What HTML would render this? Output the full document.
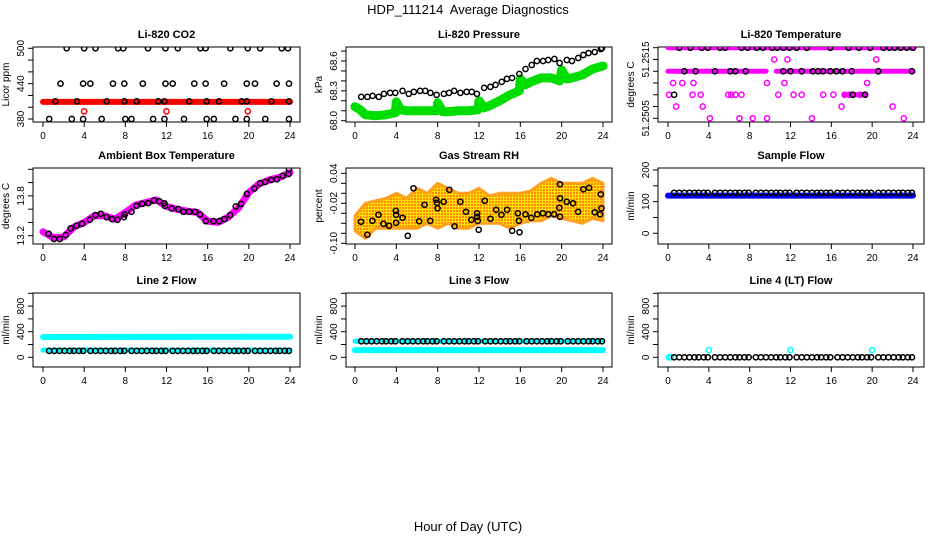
<!DOCTYPE html>
<html><head><meta charset="utf-8"><style>
html,body{margin:0;padding:0;background:#fff;}
svg{display:block;font-family:"Liberation Sans",sans-serif;}
</style></head><body>
<svg id="chart" width="936" height="540" viewBox="0 0 936 540">
<defs>
<pattern id="orangeDots" width="3" height="3" patternUnits="userSpaceOnUse">
<rect width="3" height="3" fill="#ffe000"/><rect x="0" y="0" width="2" height="2" fill="#ff8c00"/>
</pattern>
</defs>
<text x="468" y="14" text-anchor="middle" font-size="13">HDP_111214&#160; Average Diagnostics</text>
<text x="468" y="531" text-anchor="middle" font-size="13">Hour of Day (UTC)</text>
</svg>
<script>
// ---------- data ----------
const co2Hours = [2.3,4.0,5.1,7.3,7.8,10.2,11.9,13.1,15.3,15.8,18.2,19.9,21.1,23.2,23.8, 1.7,3.9,4.6,6.8,7.9,9.7,11.9,12.6,14.7,15.8,17.6,19.8,20.6,22.7,23.9, 0.6,2.8,3.9,5.7,8.0,8.6,10.7,11.8,13.7,15.9,16.6,18.7,19.8,21.6,23.9, 1.2,3.3,6.2,7.9,9.1,11.2,11.8,14.2,15.9,17.1,19.3,19.8,22.2,23.9];
const co2Values = [500,500,500,500,500,500,500,500,500,500,500,500,500,500,500, 440,440,440,440,440,440,440,440,440,440,440,440,440,440,440, 380,380,380,380,380,380,380,380,380,380,380,380,380,380,380, 410,410,410,410,410,410,410,410,410,410,410,410,410,410];
const co2RedBandHours = [0.0,24.0];
const co2RedBandValues = [409,409];
const co2RedHours = [4.0,12.0,19.9];
const co2RedValues = [393,393,393];

const presHours = [0.6,1.2,1.7,2.3,2.8,3.4,3.9,4.6,5.2,5.7,6.3,6.8,7.3,7.9,8.6,9.1,9.6,10.2,10.8,11.3,11.8,12.5,13.1,13.6,14.2,14.7,15.2,15.9,16.5,17.1,17.6,18.2,18.7,19.3,19.8,20.5,21.0,21.6,22.1,22.6,23.2,23.8,23.9];
const presValues = [68.24,68.24,68.25,68.24,68.27,68.28,68.28,68.30,68.27,68.29,68.30,68.30,68.28,68.26,68.27,68.28,68.30,68.28,68.29,68.29,68.27,68.33,68.34,68.36,68.39,68.42,68.43,68.47,68.52,68.56,68.60,68.60,68.61,68.62,68.58,68.61,68.60,68.63,68.66,68.68,68.69,68.72,68.73];
const presGreenHours = [0.0,0.5,1.0,2.0,3.0,3.9,4.0,4.4,5.0,6.0,7.0,7.9,8.0,8.5,9.0,10.0,11.0,11.9,12.0,12.5,13.0,14.0,15.0,15.9,16.0,16.5,17.0,18.0,19.0,19.8,20.0,20.5,21.0,22.0,23.0,24.0];
const presGreenValues = [68.14,68.11,68.06,68.05,68.06,68.08,68.19,68.11,68.10,68.10,68.10,68.10,68.18,68.09,68.09,68.10,68.10,68.11,68.20,68.13,68.15,68.20,68.26,68.30,68.42,68.36,68.39,68.43,68.43,68.40,68.51,68.42,68.43,68.46,68.52,68.55];

const tempBlackHours = [1.1,2.2,3.3,3.9,5.1,5.6,7.2,7.8,8.7,9.3,10.2,10.7,11.3,11.9,12.6,13.6,15.9,17.7,18.7,19.8,21.1,21.7,22.2,22.8,23.4,24.0, 1.6,2.7,4.6,6.1,6.6,7.6,11.3,12.0,13.1,14.2,14.7,15.2,15.9,16.5,17.1,18.0,20.6,23.9, 0.6,18.1,19.3];
const tempBlackValues = [51.2517,51.2517,51.2517,51.2517,51.2517,51.2517,51.2517,51.2517,51.2517,51.2517,51.2517,51.2517,51.2517,51.2517,51.2517,51.2517,51.2517,51.2517,51.2517,51.2517,51.2517,51.2517,51.2517,51.2517,51.2517,51.2517, 51.2513,51.2513,51.2513,51.2513,51.2513,51.2513,51.2513,51.2513,51.2513,51.2513,51.2513,51.2513,51.2513,51.2513,51.2513,51.2513,51.2513,51.2513, 51.2509,51.2509,51.2509];
const tempMagHours = [10.4,11.7,20.4, 0.5,1.4,2.5,9.7,11.4,19.5, 0.1,2.4,3.2,5.9,6.2,6.6,7.2,10.8,12.3,13.1,15.2,16.2,17.3,17.8,18.1,18.8,19.3, 0.8,3.4,17.0,22.0, 4.1,7.0,8.3,9.7,14.1,23.1];
const tempMagValues = [51.2515,51.2515,51.2515, 51.2511,51.2511,51.2511,51.2511,51.2511,51.2511, 51.2509,51.2509,51.2509,51.2509,51.2509,51.2509,51.2509,51.2509,51.2509,51.2509,51.2509,51.2509,51.2509,51.2509,51.2509,51.2509,51.2509, 51.2507,51.2507,51.2507,51.2507, 51.2505,51.2505,51.2505,51.2505,51.2505,51.2505];
const tempBandStart = [0.0,0.0,10.6,17.3];
const tempBandEnd = [24.0,9.6,24.0,19.3];
const tempBandValue = [51.2517,51.2513,51.2513,51.2509];

const ambHours = [0.55,1.07,1.62,2.21,2.69,3.25,3.80,4.55,5.10,5.62,6.17,6.72,7.24,7.86,7.95,8.60,9.09,9.64,10.23,10.78,11.30,11.79,11.85,12.50,13.15,13.64,14.19,14.77,15.26,15.81,16.56,17.11,17.63,18.18,18.73,19.25,19.81,20.55,21.10,21.59,22.18,22.73,23.28,23.86,23.90];
const ambValues = [13.23,13.15,13.15,13.21,13.31,13.35,13.38,13.44,13.51,13.53,13.48,13.45,13.44,13.48,13.52,13.56,13.65,13.68,13.69,13.73,13.72,13.69,13.65,13.61,13.60,13.56,13.56,13.56,13.52,13.42,13.42,13.42,13.45,13.51,13.64,13.68,13.83,13.91,13.99,14.01,14.04,14.05,14.10,14.13,14.20];
const ambMagHours = [0,1,2,3,4,5,6,7,8,9,10,11,12,13,14,15,16,17,18,19,20,21,22,23,24];
const ambMagValues = [13.26,13.17,13.18,13.33,13.40,13.50,13.50,13.45,13.55,13.66,13.70,13.74,13.64,13.60,13.57,13.55,13.42,13.40,13.48,13.62,13.85,13.98,14.04,14.08,14.15];

const rhHours = [0.58,1.20,1.68,2.27,2.75,3.30,3.95,3.98,3.98,4.60,5.11,5.66,6.21,6.73,7.28,7.86,7.93,7.99,8.58,9.13,9.64,10.19,10.74,11.26,11.81,11.81,11.88,11.97,12.56,13.11,13.66,14.17,14.72,15.21,15.76,15.86,15.92,16.50,17.06,17.64,18.19,18.71,19.26,19.77,19.84,19.84,19.84,20.49,21.10,21.59,22.10,22.65,23.20,23.72,23.79,23.85];
const rhValues = [-0.057,-0.083,-0.055,-0.043,-0.061,-0.065,-0.035,-0.043,-0.059,-0.049,-0.085,0.010,-0.056,-0.023,-0.055,-0.013,-0.019,-0.030,-0.017,0.007,-0.066,-0.017,-0.037,-0.053,-0.040,-0.047,-0.055,-0.073,-0.015,-0.051,-0.033,-0.043,-0.033,-0.075,-0.040,-0.055,-0.078,-0.042,-0.049,-0.042,-0.040,-0.042,-0.042,-0.029,-0.047,0.018,-0.010,-0.017,-0.020,-0.037,0.008,0.011,-0.038,-0.042,-0.002,-0.030];
const rhCloudHours = [0,1,2,3,4,5,6,7,8,9,10,11,12,13,14,15,16,17,18,19,20,21,22,23,24];
const rhCloudUpper = [-0.045,-0.020,-0.015,-0.010,0.000,-0.010,0.010,0.000,0.020,0.010,0.000,0.000,0.010,-0.005,0.000,0.000,0.000,0.005,0.020,0.030,0.020,0.020,0.020,0.030,0.020];
const rhCloudLower = [-0.075,-0.090,-0.070,-0.070,-0.070,-0.070,-0.070,-0.060,-0.070,-0.060,-0.070,-0.070,-0.060,-0.060,-0.060,-0.070,-0.060,-0.055,-0.055,-0.045,-0.050,-0.055,-0.060,-0.050,-0.055];

const flowHours = [0.6,1.1,1.6,2.1,2.6,3.0,3.5,3.9,4.6,5.1,5.6,6.1,6.6,7.0,7.5,7.9,8.6,9.1,9.6,10.1,10.6,11.0,11.5,11.9,12.6,13.1,13.6,14.1,14.6,15.0,15.5,15.9,16.6,17.1,17.6,18.1,18.6,19.0,19.5,19.9,20.6,21.1,21.6,22.1,22.6,23.0,23.5,23.9];
const sampleBlackValues = [128,128,128,128,128,128,128,128,128,128,128,128,128,128,128,128,128,128,128,128,128,128,128,128,128,128,128,128,128,128,128,128,128,128,128,128,128,128,128,128,128,128,128,128,128,128,128,128];
const sampleBandHours = [0.0,24.0];
const sampleBandValues = [119,119];
const line2BlackValues = [100,100,100,100,100,100,100,100,100,100,100,100,100,100,100,100,100,100,100,100,100,100,100,100,100,100,100,100,100,100,100,100,100,100,100,100,100,100,100,100,100,100,100,100,100,100,100,100];
const line2UpperHours = [0.0,24.0];
const line2UpperValues = [318,322];
const line2LowerHours = [0.0,24.0];
const line2LowerValues = [113,113];
const line3BlackValues = [251,251,251,251,251,251,251,251,251,251,251,251,251,251,251,251,251,251,251,251,251,251,251,251,251,251,251,251,251,251,251,251,251,251,251,251,251,251,251,251,251,251,251,251,251,251,251,251];
const line3UpperHours = [0.0,24.0];
const line3UpperValues = [251,251];
const line3LowerHours = [0.0,24.0];
const line3LowerValues = [113,113];
const line4BlackValues = [0,0,0,0,0,0,0,0,0,0,0,0,0,0,0,0,0,0,0,0,0,0,0,0,0,0,0,0,0,0,0,0,0,0,0,0,0,0,0,0,0,0,0,0,0,0,0,0];
const line4CyanHours = [0.1,0.3,4.0,12.0,20.0];
const line4CyanValues = [0,0,113,113,113];

const xTicks = [0,4,8,12,16,20,24];

// ---------- drawing ----------
const NS = 'http://www.w3.org/2000/svg';
const svg = document.getElementById('chart');
function mk(tag, attrs, parent){
  const e = document.createElementNS(NS, tag);
  for (const k in attrs) e.setAttribute(k, attrs[k]);
  parent.appendChild(e);
  return e;
}
function makePanel(key, title, box, xp0, xp24, yA, yB, yTicks, yLabels, ylab){
  const g = mk('g', {}, svg);
  
  
  const [l,t,r,b] = box;
  const sx = h => xp0 + h*(xp24-xp0)/24;
  const sy = v => yA[1] + (v-yA[0])*(yB[1]-yA[1])/(yB[0]-yA[0]);
  const frame = mk('rect', {x:l, y:t, width:r-l, height:b-t, fill:'none', stroke:'#000', 'stroke-width':1}, g);
  
  
  const tt = mk('text', {x:(l+r)/2, y:t-9, 'text-anchor':'middle', 'font-size':11, 'font-weight':'bold'}, g);
  tt.textContent = title;
  
  
  const xa = mk('g', {}, g);
  
  
  xTicks.forEach(h => {
    mk('line', {x1:sx(h), x2:sx(h), y1:b, y2:b+5, stroke:'#000'}, xa);
    const tx = mk('text', {x:sx(h), y:b+17, 'text-anchor':'middle', 'font-size':10}, xa);
    tx.textContent = h;
  });
  const ya = mk('g', {}, g);
  
  
  yTicks.forEach(v => mk('line', {x1:l-5, x2:l, y1:sy(v), y2:sy(v), stroke:'#000'}, ya));
  yLabels.forEach(s => {
    const v = parseFloat(s);
    const tx = mk('text', {x:0, y:0, 'text-anchor':'middle', 'font-size':10, transform:`translate(${l-9},${sy(v)}) rotate(-90)`}, ya);
    tx.textContent = s;
  });
  const yl = mk('text', {x:0, y:0, 'text-anchor':'middle', 'font-size':10, transform:`translate(${l-24},${(t+b)/2}) rotate(-90)`}, g);
  yl.textContent = ylab;
  
  
  const clipId = 'clip-' + key;
  const cp = mk('clipPath', {id:clipId}, svg);
  mk('rect', {x:l, y:t, width:r-l, height:b-t}, cp);
  const plot = mk('g', {'clip-path':`url(#${clipId})`}, g);
  return {g:plot, sx, sy};
}
function band(p, xs, ys, color, w, name){
  const pl = mk('polyline', {points: xs.map((h,i)=>p.sx(h)+','+p.sy(ys[i])).join(' '), fill:'none', stroke:color, 'stroke-width':w, 'stroke-linejoin':'round', 'stroke-linecap':'round'}, p.g);
  
  
}
function pts(p, xs, ys, color, name){
  const gg = mk('g', {}, p.g);
  
  
  xs.forEach((h,i) => {
    const c = mk('circle', {cx:p.sx(h), cy:p.sy(ys[i]), r:2.6, fill:'none', stroke:color, 'stroke-width':1.5}, gg);
    
    
  });
}

const C1=[33,300,43,290], C2=[346,612,355,603], C3=[658,924,668,913];
const R1=[47,122], R2=[168,244], R3=[293,367];
const flowTicks=[0,200,400,600,800,1000];

let p = makePanel('co2','Li-820 CO2',[C1[0],R1[0],C1[1],R1[1]],C1[2],C1[3],[500,48.3],[380,119],[380,400,420,440,460,480,500],['380','440','500'],'Licor ppm');
band(p, co2RedBandHours, co2RedBandValues, '#ff0000', 6, 'co2-red-series');
pts(p, co2RedHours, co2RedValues, '#ff0000', 'co2-red-outliers');
pts(p, co2Hours, co2Values, '#000', 'co2-black-series');

p = makePanel('pressure','Li-820 Pressure',[C2[0],R1[0],C2[1],R1[1]],C2[2],C2[3],[68.6,61],[68.0,120.7],[68.0,68.1,68.2,68.3,68.4,68.5,68.6,68.7],['68.0','68.3','68.6'],'kPa');
band(p, presGreenHours, presGreenValues, '#00dd00', 9, 'pressure-green-series');
pts(p, presHours, presValues, '#000', 'pressure-black-series');

p = makePanel('li820-temp','Li-820 Temperature',[C3[0],R1[0],C3[1],R1[1]],C3[2],C3[3],[51.2517,47.7],[51.2505,118.3],[51.2505,51.2507,51.2509,51.2511,51.2513,51.2515,51.2517],['51.2505','51.2515'],'degrees C');
tempBandStart.forEach((s,i)=> band(p,[s,tempBandEnd[i]],[tempBandValue[i],tempBandValue[i]],'#ff00ff',5,'temp-magenta-band'));
pts(p, tempMagHours, tempMagValues, '#ff00ff', 'temp-magenta-series');
pts(p, tempBlackHours, tempBlackValues, '#000', 'temp-black-series');

p = makePanel('ambient','Ambient Box Temperature',[C1[0],R2[0],C1[1],R2[1]],C1[2],C1[3],[13.2,235.7],[14.2,169.3],[13.2,13.4,13.6,13.8,14.0,14.2],['13.2','13.8'],'degrees C');
band(p, ambMagHours, ambMagValues, '#ff00ff', 7, 'ambient-magenta-series');
pts(p, ambHours, ambValues, '#000', 'ambient-black-series');

p = makePanel('rh','Gas Stream RH',[C2[0],R2[0],C2[1],R2[1]],C2[2],C2[3],[0.04,173.3],[-0.10,243.3],[-0.10,-0.08,-0.06,-0.04,-0.02,0.00,0.02,0.04],['0.04','-0.02','-0.10'],'percent');
{
  const up = rhCloudHours.map((h,i)=>p.sx(h)+','+p.sy(rhCloudUpper[i]));
  const lo = rhCloudHours.map((h,i)=>p.sx(h)+','+p.sy(rhCloudLower[i])).reverse();
  const poly = mk('polygon', {points: up.concat(lo).join(' '), fill:'url(#orangeDots)', stroke:'#ffa020', 'stroke-width':3, 'stroke-linejoin':'round'}, p.g);
  
  
}
pts(p, rhHours, rhValues, '#000', 'rh-black-series');

p = makePanel('sample-flow','Sample Flow',[C3[0],R2[0],C3[1],R2[1]],C3[2],C3[3],[0,233.3],[200,170],[0,50,100,150,200],['0','100','200'],'ml/min');
band(p, sampleBandHours, sampleBandValues, '#0000ff', 6, 'sample-blue-series');
pts(p, flowHours, sampleBlackValues, '#000', 'sample-black-series');

p = makePanel('line2','Line 2 Flow',[C1[0],R3[0],C1[1],R3[1]],C1[2],C1[3],[0,357.3],[1000,293.3],flowTicks,['0','400','800'],'ml/min');
band(p, line2UpperHours, line2UpperValues, '#00ffff', 6, 'line2-cyan-upper');
band(p, line2LowerHours, line2LowerValues, '#00ffff', 5, 'line2-cyan-lower');
pts(p, flowHours, line2BlackValues, '#000', 'line2-black-series');

p = makePanel('line3','Line 3 Flow',[C2[0],R3[0],C2[1],R3[1]],C2[2],C2[3],[0,357.3],[1000,293.3],flowTicks,['0','400','800'],'ml/min');
band(p, line3UpperHours, line3UpperValues, '#00ffff', 5, 'line3-cyan-upper');
band(p, line3LowerHours, line3LowerValues, '#00ffff', 6, 'line3-cyan-lower');
pts(p, flowHours, line3BlackValues, '#000', 'line3-black-series');

p = makePanel('line4','Line 4 (LT) Flow',[C3[0],R3[0],C3[1],R3[1]],C3[2],C3[3],[0,357.3],[1000,293.3],flowTicks,['0','400','800'],'ml/min');
pts(p, line4CyanHours, line4CyanValues, '#00ffff', 'line4-cyan-series');
pts(p, flowHours, line4BlackValues, '#000', 'line4-black-series');
</script>
</body></html>
